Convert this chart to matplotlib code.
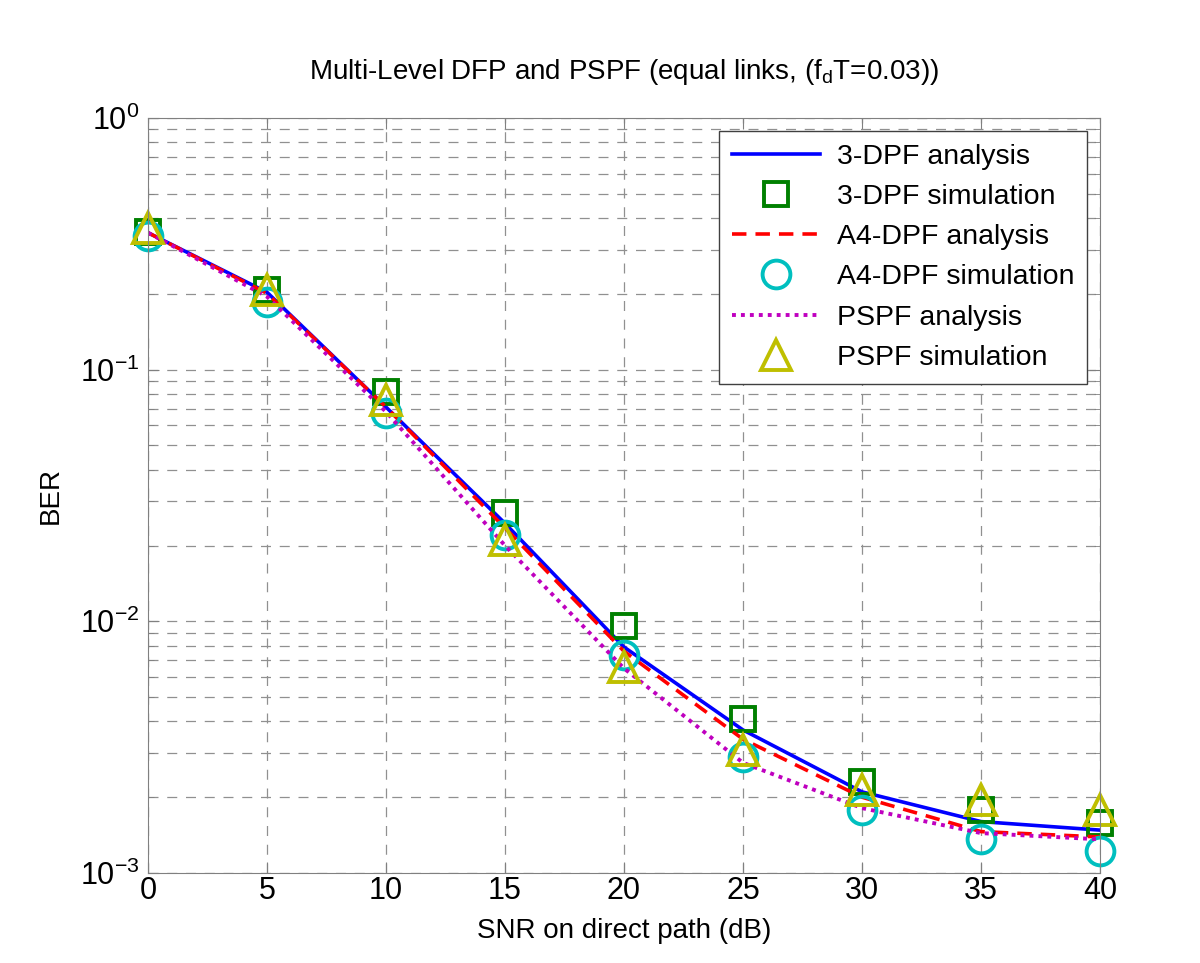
import numpy as np
from matplotlib import pyplot as plt
from matplotlib.ticker import LogLocator, NullFormatter

plt.rcParams['font.family'] = ['Liberation Sans', 'DejaVu Sans']

snr = [0, 5, 10, 15, 20, 25, 30, 35, 40]

dpf3_ana = [0.35, 0.203, 0.071, 0.0245, 0.0079, 0.0037, 0.0021, 0.0016, 0.00148]
dpf3_sim = [0.352, 0.207, 0.0815, 0.027, 0.0096, 0.0041, 0.0023, 0.00178, 0.00158]
a4_ana = [0.35, 0.201, 0.071, 0.0235, 0.0076, 0.0034, 0.0020, 0.00146, 0.00139]
a4_sim = [0.34, 0.186, 0.0673, 0.022, 0.00735, 0.00289, 0.00178, 0.00136, 0.00122]
pspf_ana = [0.35, 0.195, 0.068, 0.020, 0.0065, 0.00274, 0.00181, 0.00144, 0.00136]
pspf_sim = [0.366, 0.207, 0.0758, 0.021, 0.00659, 0.00308, 0.00214, 0.00195, 0.00178]

fig = plt.figure(figsize=(12, 9.63), dpi=100)
ax = fig.add_axes([0.1233, 0.0935, 0.7934, 0.784])

ax.semilogy(snr, dpf3_ana, '-', color='#0000ff', lw=2.6, label='3-DPF analysis')
ax.semilogy(snr, dpf3_sim, 's', color='#008000', mfc='none', ms=17, mew=2.8,
            label='3-DPF simulation', clip_on=False)
ax.semilogy(snr, a4_ana, '--', color='#ff0000', lw=2.6, dashes=(4, 2.5),
            label='A4-DPF analysis')
ax.semilogy(snr, a4_sim, 'o', color='#00bfbf', mfc='none', ms=20, mew=2.8,
            label='A4-DPF simulation', clip_on=False)
ax.semilogy(snr, pspf_ana, ':', color='#bf00bf', lw=2.8, dashes=(1, 1.3),
            label='PSPF analysis')
ax.semilogy(snr, pspf_sim, '^', color='#bfbf00', mfc='none', ms=22, mew=2.8,
            label='PSPF simulation', clip_on=False)

ax.set_xlim(0, 40)
ax.set_ylim(1e-3, 1)
ax.set_xticks(snr)
ax.yaxis.set_major_locator(LogLocator(base=10, numticks=10))
ax.yaxis.set_minor_locator(LogLocator(base=10, subs=np.arange(2, 10), numticks=100))
ax.yaxis.set_minor_formatter(NullFormatter())

ax.grid(True, which='major', ls=(0, (8, 7)), color='#909090', lw=0.9)
ax.grid(True, which='minor', axis='y', ls=(0, (8, 7)), color='#909090', lw=0.9)
ax.tick_params(which='both', direction='in', top=True, right=True, labelsize=22,
               color='#808080')
ax.tick_params(which='major', length=8, pad=6)
ax.tick_params(axis='x', which='major', pad=2)
ax.tick_params(which='minor', length=4)
for s in ax.spines.values():
    s.set_color('#808080')
    s.set_zorder(3)

ax.set_xlabel('SNR on direct path (dB)', fontsize=20, labelpad=9)
ax.set_ylabel('BER', fontsize=20, labelpad=12)
ax.set_title(r'Multi-Level DFP and PSPF (equal links, (f$_\mathregular{d}$T=0.03))',
             fontsize=20, pad=28)

leg = ax.legend(loc='upper right', fontsize=20.5, fancybox=False, framealpha=1,
                edgecolor='#404040', borderaxespad=0.45, handlelength=3.1,
                labelspacing=0.5, borderpad=0.45, handletextpad=0.6)
leg.get_frame().set_linewidth(1.0)

fig.savefig('out.png')
